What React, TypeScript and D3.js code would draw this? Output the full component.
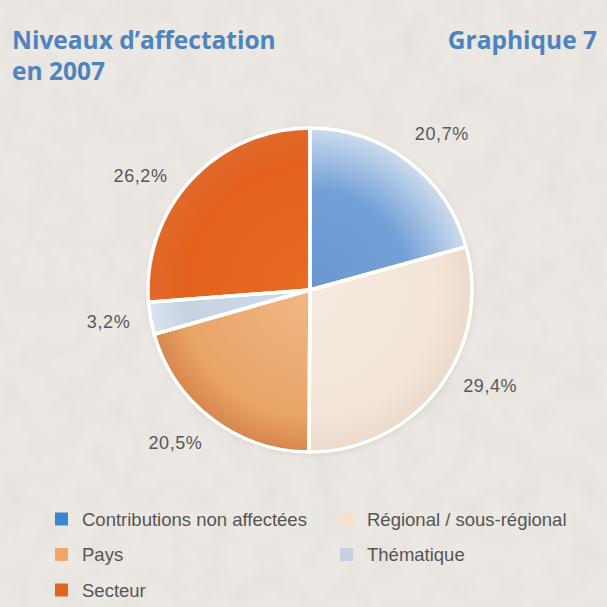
import React from 'react';
import * as d3 from 'd3';

// data (clockwise from 12 o'clock)
const categories = ['Contributions non affectées', 'Régional / sous-régional', 'Pays', 'Thématique', 'Secteur'];
const shares = [20.7, 29.4, 20.5, 3.2, 26.2];
const shareLabels = ['20,7%', '29,4%', '20,5%', '3,2%', '26,2%'];

const titleLines = ['Niveaux d\u2019affectation', 'en 2007'];
const chartTag = 'Graphique 7';

// styling
const swatchColors = ['#3d86cf', '#f7e0ca', '#f0a767', '#c4d0e4', '#e1641f'];
const sliceStops = [
    ['#6a97d1', '#73a0d6', '#cddcee'],
    ['#f6ebe1', '#f3e5d9', '#ecdac9'],
    ['#f0b884', '#eaa468', '#d6864d'],
    ['#d2dceb', '#c6d2e3', '#dbe4ef'],
    ['#e86c22', '#e4621e', '#df6a2b'],
];
// small angular nudges (degrees) for the label placement
const labelNudge = [3, -9.5, 4, 1, -9];

const W = 607, H = 607;
const cx = 310, cy = 290, R = 162;

export default function App() {
    const pie = d3.pie<number>().sort(null).value(d => d);
    const arcs = pie(shares);
    const arc = d3.arc<d3.PieArcDatum<number>>().innerRadius(0).outerRadius(R);
    const labelR = 204;

    return (
        <svg width={W} height={H} style={{ position: 'absolute', left: 0, top: 0 }}>
            <defs>
                <filter id="paper" x="0" y="0" width="100%" height="100%">
                    <feTurbulence type="fractalNoise" baseFrequency="0.035" numOctaves="4" seed="3" result="n" />
                    <feColorMatrix in="n" type="matrix"
                        values="0 0 0 0 0.55  0 0 0 0 0.52  0 0 0 0 0.48  0 0 0 0.9 -0.35" />
                </filter>
                {sliceStops.map((s, i) => (
                    <radialGradient key={i} id={'g' + i} gradientUnits="userSpaceOnUse" cx={0} cy={0} r={R}>
                        <stop offset="0%" stopColor={s[0]} />
                        <stop offset={i === 0 ? '62%' : '78%'} stopColor={s[1]} />
                        <stop offset="100%" stopColor={s[2]} />
                    </radialGradient>
                ))}
                <filter id="shadow" x="-20%" y="-20%" width="140%" height="140%">
                    <feGaussianBlur stdDeviation="3" />
                </filter>
            </defs>
            <rect width={W} height={H} fill="#ece8e3" />
            <rect width={W} height={H} filter="url(#paper)" opacity={0.35} />

            <g fontFamily="'Open Sans', 'DejaVu Sans', sans-serif" fontWeight={700} fill="#4d84bf" fontSize={24.5}>
                <text x={12} y={49}>{titleLines[0]}</text>
                <text x={12} y={80}>{titleLines[1]}</text>
                <text x={597} y={49} textAnchor="end">{chartTag}</text>
            </g>

            <circle cx={cx + 1} cy={cy + 2} r={R + 1} fill="#b9aea4" opacity={0.35} filter="url(#shadow)" />
            <g transform={`translate(${cx},${cy})`}>
                {arcs.map((a, i) => (
                    <path key={i} d={arc(a) || ''} fill={`url(#g${i})`} />
                ))}
                {arcs.map((a, i) => (
                    <path key={'s' + i} d={arc(a) || ''} fill="none" stroke="#ffffff" strokeWidth={3.5}
                        strokeLinejoin="round" />
                ))}
            </g>

            <g fontFamily="'Liberation Sans', Arial, sans-serif" fontSize={18} fill="#585858" letterSpacing={0.6}>
                {arcs.map((a, i) => {
                    const ang = (a.startAngle + a.endAngle) / 2 + (labelNudge[i] * Math.PI) / 180;
                    return (
                        <text key={i} x={cx + labelR * Math.sin(ang)} y={cy - labelR * Math.cos(ang)}
                            textAnchor="middle" dominantBaseline="central">{shareLabels[i]}</text>
                    );
                })}
            </g>

            <g fontFamily="'Liberation Sans', Arial, sans-serif" fontSize={18.5} fill="#555555">
                {categories.map((c, i) => {
                    const col = i % 2, row = Math.floor(i / 2);
                    const x = col === 0 ? 55 : 340;
                    const y = 519 + row * 35.5;
                    return (
                        <g key={i}>
                            <rect x={x} y={y - 6.5} width={13} height={13} fill={swatchColors[i]} />
                            <text x={x + 27} y={y} dominantBaseline="central">{c}</text>
                        </g>
                    );
                })}
            </g>
        </svg>
    );
}
